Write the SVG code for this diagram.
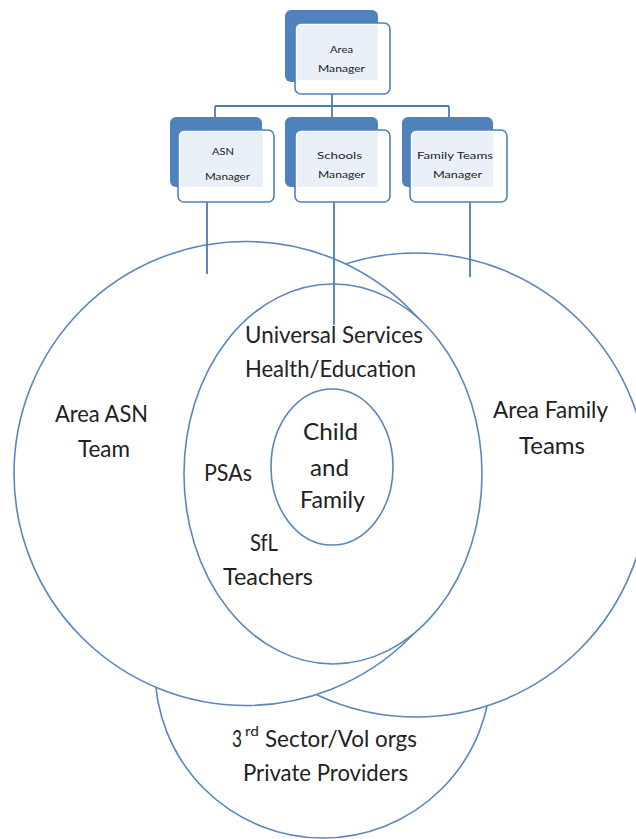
<svg xmlns="http://www.w3.org/2000/svg" width="636" height="839" viewBox="0 0 636 839">
<style>
.c{fill:#fff;stroke:#5A86C0;stroke-width:1.6}
.ln{stroke:#4A7EBB;stroke-width:1.8;fill:none}
.back{fill:#4F81BD}
.front{fill:#fff;stroke:#4F81BD;stroke-width:1.6}
.tint{fill:#EAF0F8}
.t{font-family:Lato,"Open Sans","Liberation Sans",sans-serif;font-size:24px;fill:#222;text-anchor:start}
.s{font-family:Lato,"Open Sans","Liberation Sans",sans-serif;font-size:10px;fill:#222}
</style>
<rect width="636" height="839" fill="#fff"/>
<g id="circles">
  <g id="sector"><circle class="c" cx="323" cy="670" r="168"/></g>
  <g id="family-teams"><circle class="c" cx="416" cy="485" r="232"/></g>
  <g id="asn-team"><circle class="c" cx="246" cy="473.5" r="232"/></g>
  <g id="universal"><ellipse class="c" cx="333" cy="474" rx="149" ry="190"/></g>
  <g id="child"><ellipse class="c" cx="332" cy="467" rx="61" ry="78"/></g>
</g>
<g id="connectors">
  <path class="ln" d="M332 94V106M215 106H449M215 106V117M332 106V117M449 106V117"/>
  <path class="ln" d="M207 202V274M334 202V325M470 202V277" stroke-width="1.5"/>
</g>
<g id="area-manager">
  <rect class="back" x="285" y="10" width="93" height="72" rx="6"/>
  <rect class="front" x="295" y="23" width="95" height="71" rx="6"/>
  <rect class="tint" x="297" y="25" width="81" height="55"/>
  <text class="s" x="330" y="53" textLength="23" lengthAdjust="spacingAndGlyphs">Area</text>
  <text class="s" x="318" y="72" textLength="47" lengthAdjust="spacingAndGlyphs">Manager</text>
</g>
<g id="asn-manager">
  <rect class="back" x="170" y="117" width="92" height="70" rx="6"/>
  <rect class="front" x="178" y="130" width="96" height="72" rx="6"/>
  <rect class="tint" x="180" y="132" width="83" height="55"/>
  <text class="s" x="212" y="155" textLength="22" lengthAdjust="spacingAndGlyphs">ASN</text>
  <text class="s" x="205" y="180" textLength="45" lengthAdjust="spacingAndGlyphs">Manager</text>
</g>
<g id="schools-manager">
  <rect class="back" x="285" y="117" width="93" height="70" rx="6"/>
  <rect class="front" x="295" y="130" width="95" height="72" rx="6"/>
  <rect class="tint" x="297" y="132" width="81" height="55"/>
  <text class="s" x="317" y="159" textLength="45" lengthAdjust="spacingAndGlyphs">Schools</text>
  <text class="s" x="318" y="178" textLength="47" lengthAdjust="spacingAndGlyphs">Manager</text>
</g>
<g id="family-manager">
  <rect class="back" x="402" y="117" width="91" height="70" rx="6"/>
  <rect class="front" x="410" y="130" width="97" height="72" rx="6"/>
  <rect class="tint" x="412" y="132" width="81" height="55"/>
  <text class="s" x="417" y="159" textLength="76" lengthAdjust="spacingAndGlyphs">Family Teams</text>
  <text class="s" x="433" y="178" textLength="49" lengthAdjust="spacingAndGlyphs">Manager</text>
</g>
<g id="labels">
  <text class="t" x="245" y="343" textLength="178" lengthAdjust="spacingAndGlyphs">Universal Services</text>
  <text class="t" x="245" y="377" textLength="171" lengthAdjust="spacingAndGlyphs">Health/Education</text>
  <text class="t" x="55" y="422" textLength="93" lengthAdjust="spacingAndGlyphs">Area ASN</text>
  <text class="t" x="78" y="457" textLength="52" lengthAdjust="spacingAndGlyphs">Team</text>
  <text class="t" x="204" y="481" textLength="48" lengthAdjust="spacingAndGlyphs">PSAs</text>
  <text class="t" x="250" y="551" textLength="28" lengthAdjust="spacingAndGlyphs">SfL</text>
  <text class="t" x="223" y="585" textLength="90" lengthAdjust="spacingAndGlyphs">Teachers</text>
  <text class="t" x="303" y="440" textLength="55" lengthAdjust="spacingAndGlyphs">Child</text>
  <text class="t" x="310" y="476" textLength="39" lengthAdjust="spacingAndGlyphs">and</text>
  <text class="t" x="300" y="508" textLength="65" lengthAdjust="spacingAndGlyphs">Family</text>
  <text class="t" x="493" y="418" textLength="115" lengthAdjust="spacingAndGlyphs">Area Family</text>
  <text class="t" x="519" y="454" textLength="66" lengthAdjust="spacingAndGlyphs">Teams</text>
  <text class="t" y="747"><tspan x="232" textLength="10" lengthAdjust="spacingAndGlyphs">3</tspan><tspan x="245" y="736" font-size="13" textLength="14" lengthAdjust="spacingAndGlyphs">rd</tspan><tspan x="265" y="747" textLength="152" lengthAdjust="spacingAndGlyphs">Sector/Vol orgs</tspan></text>
  <text class="t" x="243" y="781" textLength="165" lengthAdjust="spacingAndGlyphs">Private Providers</text>
</g>
</svg>
